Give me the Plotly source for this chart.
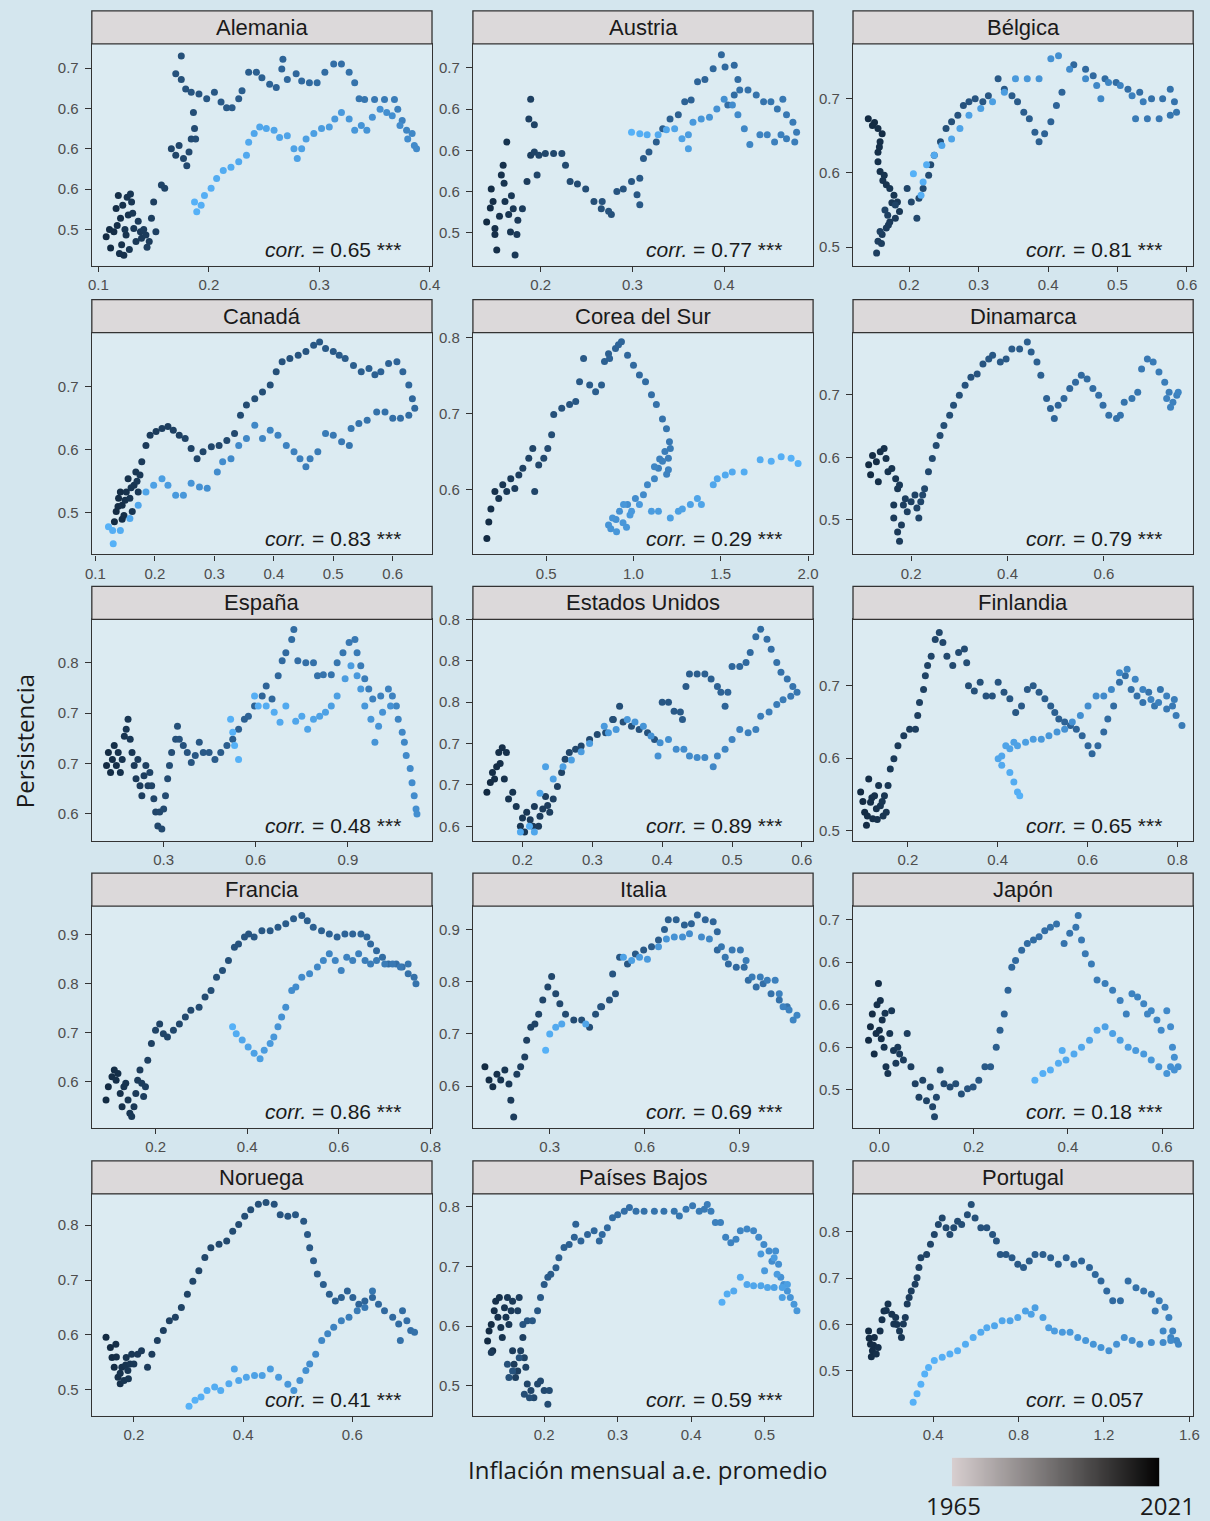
import plotly.graph_objects as go

# ---------------- DATA (inflation, persistence, year) ----------------
ALEMANIA = [(0.107,0.491,1965),(0.111,0.477,1965),(0.110,0.500,1966),(0.114,0.497,1966),(0.116,0.526,1966),(0.118,0.542,1967),(0.117,0.505,1967),(0.120,0.514,1967),(0.121,0.481,1968),(0.119,0.470,1968),(0.122,0.530,1968),(0.123,0.468,1968),(0.125,0.493,1969),(0.126,0.540,1969),(0.127,0.518,1969),(0.129,0.544,1970),(0.124,0.500,1970),(0.128,0.475,1970),(0.130,0.534,1970),(0.132,0.501,1971),(0.131,0.520,1971),(0.134,0.485,1971),(0.138,0.497,1972),(0.136,0.510,1972),(0.139,0.489,1972),(0.143,0.493,1973),(0.141,0.500,1973),(0.146,0.485,1973),(0.144,0.478,1974),(0.148,0.514,1974),(0.150,0.534,1974),(0.152,0.497,1975),
    (0.157,0.555,1976),(0.160,0.551,1976),(0.166,0.600,1977),(0.170,0.592,1977),(0.173,0.604,1978),(0.177,0.588,1978),(0.180,0.579,1979),(0.182,0.596,1979),(0.184,0.612,1980),(0.187,0.625,1980),(0.188,0.612,1981),(0.186,0.645,1981),
    (0.175,0.715,1982),(0.175,0.686,1982),(0.170,0.693,1983),(0.179,0.674,1983),(0.184,0.670,1984),(0.191,0.668,1984),(0.198,0.662,1985),(0.205,0.670,1985),(0.211,0.658,1986),(0.216,0.651,1986),(0.221,0.651,1987),(0.227,0.662,1987),(0.230,0.672,1988),(0.236,0.695,1988),(0.243,0.695,1989),(0.248,0.688,1989),(0.255,0.680,1990),(0.261,0.676,1990),(0.266,0.699,1991),(0.267,0.711,1991),(0.271,0.686,1992),(0.279,0.693,1992),(0.284,0.684,1993),(0.291,0.682,1993),(0.298,0.682,1994),(0.305,0.695,1994),(0.313,0.705,1995),(0.320,0.705,1995),(0.327,0.695,1996),(0.332,0.682,1997),(0.336,0.662,1998),(0.341,0.661,1998),(0.350,0.661,1999),(0.359,0.661,2000),(0.368,0.661,2001),(0.371,0.649,2002),(0.375,0.635,2003),(0.379,0.623,2004),(0.384,0.619,2005),(0.386,0.604,2006),(0.388,0.600,2006),
    (0.380,0.612,2007),(0.373,0.629,2007),(0.366,0.641,2008),(0.361,0.645,2008),(0.355,0.649,2009),(0.348,0.639,2009),(0.343,0.623,2010),(0.338,0.629,2010),(0.332,0.623,2011),(0.327,0.637,2011),(0.320,0.645,2012),(0.314,0.637,2012),(0.309,0.627,2013),(0.302,0.625,2013),(0.295,0.619,2014),(0.288,0.612,2014),(0.284,0.600,2015),(0.280,0.588,2015),(0.277,0.600,2015),(0.271,0.616,2016),(0.264,0.614,2016),(0.259,0.623,2016),(0.252,0.625,2017),(0.246,0.627,2017),(0.241,0.619,2017),(0.236,0.608,2018),(0.234,0.592,2018),(0.227,0.584,2018),(0.220,0.577,2019),(0.213,0.573,2019),(0.207,0.563,2019),(0.202,0.551,2020),(0.196,0.542,2020),(0.193,0.530,2020),(0.189,0.522,2021),(0.187,0.534,2021)]

AUSTRIA = [(0.141,0.513,1965),(0.146,0.553,1966),(0.145,0.530,1966),(0.148,0.538,1966),(0.150,0.505,1967),(0.150,0.498,1967),(0.152,0.479,1967),(0.155,0.520,1968),(0.157,0.570,1968),(0.159,0.582,1968),(0.160,0.560,1969),(0.161,0.538,1969),(0.163,0.610,1969),(0.165,0.522,1970),(0.167,0.501,1970),(0.168,0.545,1971),(0.170,0.529,1971),(0.172,0.473,1971),(0.175,0.515,1972),(0.174,0.498,1972),
    (0.180,0.529,1973),(0.185,0.562,1973),(0.189,0.594,1974),(0.187,0.638,1975),(0.189,0.662,1975),(0.193,0.631,1976),(0.193,0.598,1976),(0.196,0.570,1977),(0.198,0.594,1977),
    (0.205,0.596,1978),(0.214,0.596,1978),(0.223,0.596,1979),(0.227,0.582,1979),(0.232,0.562,1980),(0.240,0.559,1980),(0.249,0.553,1981),(0.258,0.538,1981),(0.266,0.529,1982),(0.277,0.522,1982),(0.267,0.538,1983),(0.274,0.526,1983),(0.283,0.550,1984),(0.290,0.553,1984),(0.299,0.562,1985),(0.305,0.546,1985),(0.308,0.534,1986),(0.308,0.566,1986),(0.312,0.590,1987),(0.318,0.598,1987),(0.326,0.610,1988),(0.333,0.626,1988),(0.341,0.638,1989),(0.350,0.643,1989),(0.357,0.659,1990),(0.364,0.661,1990),(0.371,0.683,1991),(0.379,0.686,1991),(0.388,0.699,1992),(0.397,0.716,1992),(0.401,0.701,1993),(0.411,0.703,1993),(0.415,0.686,1994),(0.411,0.667,1994),(0.404,0.655,1995),
    (0.417,0.673,1996),(0.426,0.673,1996),(0.435,0.667,1997),(0.443,0.659,1997),(0.451,0.659,1998),(0.458,0.650,1998),(0.464,0.662,1999),(0.468,0.643,1999),(0.475,0.634,2000),(0.479,0.622,2000),(0.477,0.610,2001),(0.468,0.614,2001),(0.462,0.619,2002),(0.455,0.610,2002),(0.447,0.619,2003),(0.439,0.619,2003),(0.428,0.607,2004),(0.422,0.626,2005),(0.415,0.643,2006),(0.409,0.655,2007),(0.400,0.662,2008),(0.392,0.650,2009),(0.384,0.640,2010),(0.375,0.638,2011),(0.366,0.634,2012),(0.361,0.619,2013),(0.361,0.602,2014),(0.354,0.614,2015),(0.346,0.626,2016),(0.337,0.625,2017),(0.328,0.619,2018),(0.316,0.619,2019),(0.308,0.620,2020),(0.299,0.622,2021)]

BELGICA = [(0.141,0.673,1965),(0.150,0.668,1965),(0.147,0.664,1965),(0.155,0.660,1966),(0.161,0.653,1966),(0.158,0.642,1967),(0.157,0.635,1967),(0.155,0.628,1967),(0.155,0.615,1968),(0.158,0.602,1968),(0.162,0.590,1969),(0.164,0.597,1969),(0.167,0.584,1969),(0.172,0.579,1970),(0.178,0.570,1970),(0.175,0.560,1971),(0.183,0.561,1971),(0.186,0.548,1971),(0.180,0.539,1972),(0.172,0.534,1972),(0.170,0.530,1973),(0.167,0.526,1973),(0.161,0.517,1973),(0.160,0.505,1974),(0.155,0.508,1974),(0.153,0.492,1974),(0.158,0.521,1975),(0.169,0.543,1975),(0.165,0.550,1976),(0.180,0.557,1976),
    (0.197,0.579,1977),(0.203,0.561,1978),(0.211,0.539,1978),(0.214,0.566,1979),(0.220,0.579,1979),(0.228,0.597,1980),(0.231,0.611,1980),(0.236,0.624,1981),(0.245,0.642,1981),(0.253,0.660,1982),(0.261,0.669,1982),(0.270,0.678,1983),(0.278,0.691,1983),(0.286,0.696,1984),(0.295,0.700,1984),(0.306,0.696,1985),(0.314,0.704,1985),(0.328,0.727,1986),(0.337,0.713,1986),(0.348,0.704,1987),(0.356,0.696,1987),(0.365,0.682,1988),(0.373,0.673,1988),(0.381,0.655,1989),(0.387,0.642,1989),(0.395,0.653,1990),(0.404,0.669,1990),(0.412,0.691,1991),(0.420,0.709,1991),
    (0.437,0.746,1992),(0.454,0.740,1993),(0.465,0.731,1993),(0.482,0.727,1994),(0.498,0.722,1994),(0.515,0.713,1995),(0.532,0.709,1995),(0.549,0.700,1996),(0.565,0.700,1996),(0.576,0.713,1997),(0.582,0.696,1997),(0.585,0.682,1998),(0.576,0.678,1998),(0.560,0.673,1999),(0.543,0.673,1999),(0.526,0.673,2000),
    (0.537,0.696,2001),(0.521,0.704,2002),(0.504,0.718,2003),(0.487,0.722,2004),(0.470,0.718,2005),(0.476,0.700,2005),(0.454,0.727,2006),(0.431,0.740,2007),(0.415,0.758,2008),(0.404,0.754,2009),(0.387,0.727,2010),(0.370,0.727,2011),(0.353,0.727,2012),(0.337,0.709,2013),(0.320,0.696,2014),(0.303,0.687,2014),(0.286,0.678,2015),(0.273,0.660,2016),(0.261,0.646,2016),(0.247,0.637,2017),(0.236,0.624,2018),(0.225,0.611,2019),(0.220,0.588,2020),(0.217,0.570,2020),(0.206,0.599,2021)]

CANADA = [(0.132,0.486,1965),(0.145,0.490,1966),(0.135,0.502,1965),(0.139,0.523,1966),(0.138,0.510,1966),(0.142,0.533,1966),(0.145,0.512,1967),(0.148,0.496,1967),(0.150,0.520,1968),(0.152,0.533,1968),(0.155,0.554,1968),(0.158,0.523,1969),(0.162,0.502,1969),(0.160,0.540,1970),(0.165,0.544,1970),(0.168,0.565,1970),(0.170,0.550,1971),(0.172,0.533,1971),(0.175,0.560,1971),
    (0.178,0.581,1972),(0.185,0.607,1972),(0.192,0.623,1973),(0.202,0.629,1973),(0.212,0.634,1974),(0.222,0.637,1974),(0.231,0.631,1975),(0.241,0.623,1975),(0.251,0.618,1976),(0.261,0.602,1976),(0.271,0.586,1977),(0.281,0.597,1977),(0.295,0.605,1978),(0.308,0.607,1978),(0.321,0.615,1979),(0.334,0.626,1979),(0.344,0.655,1980),(0.354,0.671,1980),(0.368,0.681,1981),(0.381,0.692,1981),(0.394,0.703,1982),(0.404,0.724,1982),(0.414,0.740,1983),(0.427,0.745,1983),(0.441,0.750,1984),(0.454,0.756,1984),(0.467,0.766,1985),(0.477,0.771,1985),(0.487,0.761,1986),(0.500,0.756,1986),(0.510,0.750,1987),(0.520,0.745,1987),(0.534,0.734,1988),(0.547,0.724,1988),(0.560,0.729,1989),(0.570,0.719,1989),(0.580,0.724,1990),(0.593,0.737,1990),(0.607,0.740,1991),(0.617,0.724,1991),(0.627,0.703,1992),(0.633,0.681,1992),(0.637,0.666,1993),
    (0.627,0.655,1994),(0.613,0.650,1995),(0.600,0.650,1995),(0.587,0.660,1996),(0.573,0.660,1996),(0.557,0.647,1997),(0.543,0.642,1997),(0.530,0.634,1998),(0.527,0.607,1998),(0.514,0.613,1999),(0.500,0.623,1999),(0.487,0.626,2000),(0.474,0.597,2000),(0.461,0.586,2001),(0.454,0.573,2001),(0.444,0.586,2002),(0.434,0.597,2002),(0.421,0.607,2003),(0.407,0.623,2003),(0.394,0.631,2004),(0.381,0.618,2004),(0.368,0.639,2005),(0.354,0.618,2005),(0.341,0.607,2006),(0.328,0.586,2006),(0.314,0.581,2007),(0.305,0.565,2007),(0.288,0.539,2008),(0.275,0.541,2009),(0.261,0.547,2010),(0.248,0.528,2011),(0.235,0.528,2012),(0.222,0.544,2013),(0.212,0.554,2014),(0.198,0.544,2015),(0.185,0.533,2016),(0.172,0.512,2017),(0.158,0.491,2018),(0.142,0.472,2019),(0.129,0.472,2020),(0.122,0.478,2021),(0.130,0.451,2021)]

COREA = [(0.160,0.535,1965),(0.171,0.557,1966),(0.183,0.574,1967),(0.206,0.597,1968),(0.228,0.588,1969),(0.251,0.606,1970),(0.274,0.597,1971),(0.297,0.614,1972),(0.320,0.601,1973),(0.343,0.619,1974),(0.366,0.628,1975),(0.400,0.641,1976),(0.423,0.654,1977),(0.434,0.597,1977),(0.457,0.632,1978),(0.486,0.641,1979),(0.509,0.654,1980),(0.531,0.672,1981),(0.543,0.699,1982),(0.589,0.707,1983),(0.634,0.712,1984),(0.669,0.716,1985),(0.691,0.742,1986),(0.714,0.773,1986),(0.749,0.738,1987),(0.783,0.729,1988),(0.817,0.738,1988),(0.834,0.769,1989),(0.857,0.779,1989),(0.863,0.773,1990),(0.897,0.786,1990),(0.914,0.791,1991),(0.931,0.795,1991),(0.966,0.777,1992),(1.000,0.764,1993),(1.034,0.751,1993),(1.069,0.742,1994),(1.103,0.725,1995),(1.131,0.712,1996),(1.166,0.693,1997),(1.189,0.680,1998),(1.206,0.663,1999),(1.211,0.654,2000),
    (1.200,0.641,2001),(1.180,0.650,2001),(1.166,0.637,2002),(1.150,0.640,2002),(1.143,0.628,2002),(1.200,0.626,2003),(1.190,0.620,2003),(1.120,0.614,2004),(1.120,0.630,2004),(1.080,0.606,2005),(1.057,0.593,2006),(1.011,0.588,2007),(0.966,0.580,2008),(0.920,0.571,2009),(0.900,0.560,2009),(0.880,0.562,2010),(0.857,0.553,2010),(0.870,0.548,2010),(0.903,0.544,2011),(0.940,0.556,2011),(0.960,0.550,2011),
    (0.943,0.580,2011),(0.989,0.571,2012),(0.980,0.566,2012),(1.034,0.580,2012),(1.103,0.571,2013),(1.143,0.571,2013),(1.211,0.562,2014),(1.257,0.571,2014),(1.280,0.574,2015),(1.326,0.580,2015),(1.366,0.588,2016),(1.389,0.580,2016),(1.457,0.606,2017),(1.480,0.614,2017),(1.526,0.619,2018),(1.566,0.623,2018),(1.634,0.623,2019),(1.726,0.639,2019),(1.789,0.637,2020),(1.846,0.643,2020),(1.903,0.641,2021),(1.943,0.634,2021)]

DINAMARCA = [(0.112,0.588,1965),(0.116,0.572,1965),(0.120,0.603,1966),(0.128,0.593,1966),(0.132,0.561,1967),(0.136,0.609,1967),(0.144,0.614,1968),(0.148,0.598,1968),(0.152,0.577,1969),(0.160,0.582,1969),(0.168,0.566,1970),(0.172,0.550,1970),(0.176,0.556,1971),(0.164,0.524,1971),(0.164,0.503,1972),(0.172,0.481,1972),(0.176,0.466,1973),(0.180,0.492,1973),(0.184,0.524,1974),(0.188,0.534,1974),(0.192,0.513,1975),(0.200,0.529,1975),(0.208,0.540,1976),(0.212,0.519,1976),(0.216,0.503,1977),(0.220,0.529,1977),(0.224,0.540,1978),(0.228,0.550,1978),
    (0.236,0.577,1979),(0.244,0.598,1979),(0.252,0.619,1980),(0.260,0.635,1980),(0.268,0.651,1981),(0.280,0.667,1981),(0.288,0.683,1982),(0.300,0.699,1982),(0.312,0.715,1983),(0.324,0.728,1983),(0.337,0.733,1984),(0.349,0.749,1984),(0.361,0.757,1985),(0.369,0.763,1985),(0.385,0.752,1986),(0.397,0.757,1986),(0.409,0.773,1987),(0.425,0.773,1987),(0.441,0.784,1988),(0.449,0.768,1988),(0.461,0.752,1989),(0.469,0.731,1989),(0.481,0.694,1990),(0.489,0.678,1990),(0.497,0.662,1991),(0.505,0.683,1991),(0.517,0.694,1992),(0.529,0.710,1992),(0.541,0.720,1993),(0.553,0.731,1993),(0.565,0.725,1994),(0.577,0.710,1994),(0.589,0.699,1995),(0.598,0.683,1995),(0.610,0.667,1996),(0.626,0.662,1996),(0.634,0.667,1997),(0.642,0.688,1997),(0.658,0.694,1998),(0.670,0.704,1998),(0.678,0.741,1999),(0.690,0.757,1999),(0.702,0.752,2000),(0.714,0.736,2000),(0.726,0.720,2001),(0.735,0.704,2001),(0.743,0.688,2002),(0.751,0.699,2002),(0.738,0.680,2003),(0.730,0.694,2003),(0.754,0.704,2004)]

ESPANA = [(0.114,0.698,1965),(0.120,0.711,1965),(0.127,0.691,1966),(0.133,0.704,1966),(0.139,0.718,1967),(0.146,0.698,1967),(0.152,0.711,1968),(0.159,0.691,1968),(0.165,0.704,1969),(0.172,0.727,1969),(0.178,0.734,1970),(0.184,0.744,1970),(0.191,0.724,1971),(0.197,0.711,1971),(0.204,0.698,1972),(0.210,0.685,1972),(0.216,0.704,1973),(0.223,0.678,1973),(0.229,0.668,1974),(0.236,0.688,1974),(0.242,0.698,1975),(0.249,0.678,1975),(0.255,0.691,1976),(0.261,0.678,1976),(0.268,0.665,1977),(0.274,0.652,1977),(0.281,0.638,1978),(0.287,0.652,1978),(0.294,0.635,1979),(0.300,0.655,1979),(0.306,0.668,1980),(0.313,0.685,1980),(0.319,0.698,1981),(0.326,0.711,1981),(0.339,0.724,1982),(0.345,0.737,1982),
    (0.351,0.724,1983),(0.364,0.718,1983),(0.377,0.711,1984),(0.390,0.701,1984),(0.403,0.708,1985),(0.416,0.721,1985),(0.429,0.711,1986),(0.448,0.711,1986),(0.467,0.704,1987),(0.486,0.711,1987),(0.506,0.718,1988),(0.525,0.724,1988),(0.544,0.734,1989),(0.563,0.744,1989),(0.576,0.747,1990),(0.596,0.757,1990),(0.621,0.767,1991),(0.634,0.777,1991),(0.653,0.764,1992),(0.673,0.787,1992),(0.686,0.802,1993),(0.698,0.810,1993),(0.717,0.823,1994),(0.724,0.833,1994),(0.737,0.802,1995),(0.763,0.800,1995),(0.788,0.800,1996),(0.801,0.787,1996),(0.820,0.788,1997),(0.846,0.788,1997),(0.865,0.800,1998),(0.884,0.810,1998),(0.904,0.820,1999),(0.923,0.823,1999),(0.930,0.810,2000),(0.942,0.797,2000),(0.955,0.784,2001),(0.968,0.774,2001),(0.981,0.764,2002),(1.007,0.767,2002),(1.032,0.774,2003),(1.045,0.767,2003),(1.058,0.757,2004),(1.064,0.744,2004),(1.077,0.731,2005),(1.084,0.721,2005),(1.090,0.708,2006),(1.103,0.695,2006),(1.109,0.681,2007),(1.116,0.668,2007),(1.122,0.655,2008),(1.125,0.650,2008),
    (1.039,0.757,2009),(1.013,0.751,2009),(1.000,0.737,2010),(0.988,0.721,2010),(0.975,0.744,2011),(0.955,0.757,2011),(0.942,0.774,2012),(0.930,0.787,2012),(0.910,0.797,2013),(0.891,0.784,2013),(0.865,0.767,2014),(0.846,0.757,2014),(0.827,0.751,2015),(0.808,0.747,2015),(0.788,0.744,2016),(0.769,0.734,2016),(0.750,0.747,2017),(0.730,0.742,2017),(0.698,0.757,2018),(0.679,0.741,2018),(0.660,0.751,2019),(0.634,0.757,2019),(0.608,0.757,2020),(0.596,0.767,2020),(0.544,0.704,2021),(0.531,0.718,2021),(0.525,0.731,2021),(0.518,0.744,2021)]

EEUU = [(0.149,0.641,1965),(0.154,0.653,1965),(0.157,0.665,1966),(0.160,0.657,1966),(0.163,0.672,1966),(0.166,0.689,1967),(0.168,0.676,1967),(0.171,0.695,1967),(0.177,0.689,1968),(0.174,0.657,1968),(0.180,0.633,1969),(0.186,0.641,1969),(0.191,0.624,1970),(0.197,0.600,1970),(0.200,0.610,1971),(0.203,0.593,1971),(0.206,0.617,1971),(0.211,0.608,1972),(0.215,0.600,1972),(0.217,0.624,1972),(0.223,0.600,1973),(0.225,0.612,1973),(0.229,0.621,1973),(0.233,0.636,1974),(0.236,0.625,1974),(0.239,0.617,1974),(0.244,0.633,1975),(0.250,0.648,1975),(0.256,0.665,1976),
    (0.261,0.681,1977),(0.267,0.689,1977),(0.276,0.693,1978),(0.284,0.697,1978),(0.296,0.705,1979),(0.307,0.711,1979),(0.319,0.713,1980),(0.330,0.729,1980),(0.329,0.729,1981),(0.339,0.745,1981),(0.344,0.726,1982),(0.356,0.721,1982),(0.367,0.717,1983),(0.379,0.713,1983),(0.389,0.705,1984),(0.400,0.750,1985),(0.409,0.750,1985),(0.417,0.739,1986),(0.426,0.738,1986),(0.429,0.729,1987),(0.434,0.769,1987),(0.439,0.784,1988),(0.450,0.784,1988),(0.461,0.784,1989),(0.470,0.778,1989),(0.479,0.769,1990),(0.484,0.762,1990),(0.490,0.745,1991),(0.494,0.762,1991),(0.500,0.793,1992),(0.511,0.793,1992),(0.520,0.798,1993),(0.526,0.810,1993),(0.534,0.829,1994),(0.541,0.838,1994),(0.550,0.826,1995),(0.556,0.814,1995),(0.564,0.798,1996),(0.570,0.786,1996),(0.579,0.778,1997),(0.587,0.769,1997),(0.593,0.762,1998),
    (0.584,0.757,1999),(0.573,0.753,2000),(0.564,0.747,2000),(0.553,0.738,2001),(0.541,0.733,2001),(0.534,0.717,2002),(0.523,0.713,2002),(0.511,0.717,2003),(0.500,0.705,2003),(0.490,0.693,2004),(0.479,0.685,2004),(0.473,0.672,2005),(0.461,0.683,2005),(0.450,0.683,2006),(0.439,0.685,2006),(0.431,0.693,2007),(0.420,0.693,2007),(0.409,0.705,2008),(0.397,0.701,2008),(0.394,0.685,2009),(0.384,0.709,2009),(0.373,0.721,2010),(0.361,0.726,2010),(0.350,0.729,2011),(0.334,0.717,2011),(0.323,0.713,2012),(0.317,0.721,2012),(0.296,0.700,2013),(0.284,0.690,2013),(0.270,0.680,2014),(0.258,0.672,2014),(0.244,0.657,2015),(0.233,0.672,2015),(0.225,0.640,2016),(0.217,0.593,2017),(0.197,0.593,2018),(0.210,0.600,2019)]

FINLANDIA = [(0.095,0.553,1965),(0.100,0.540,1965),(0.104,0.525,1965),(0.108,0.507,1966),(0.110,0.520,1966),(0.113,0.571,1966),(0.117,0.539,1967),(0.120,0.545,1967),(0.122,0.516,1967),(0.126,0.548,1968),(0.132,0.515,1968),(0.130,0.530,1968),(0.135,0.562,1969),(0.139,0.534,1969),(0.143,0.540,1970),(0.145,0.520,1970),(0.148,0.548,1970),(0.152,0.525,1970),(0.156,0.562,1971),
    (0.161,0.585,1971),(0.169,0.599,1972),(0.178,0.617,1972),(0.191,0.631,1973),(0.204,0.640,1973),(0.217,0.640,1974),(0.222,0.659,1974),(0.226,0.677,1975),(0.235,0.695,1975),(0.239,0.714,1976),(0.244,0.728,1976),(0.252,0.741,1977),(0.261,0.764,1977),(0.270,0.774,1978),(0.278,0.760,1978),(0.287,0.741,1979),(0.300,0.728,1979),(0.313,0.746,1980),(0.326,0.751,1980),(0.331,0.732,1981),
    (0.335,0.700,1981),(0.348,0.693,1982),(0.361,0.705,1982),(0.374,0.686,1983),(0.388,0.686,1983),(0.401,0.705,1984),(0.414,0.691,1984),(0.427,0.682,1985),(0.440,0.663,1985),(0.453,0.672,1986),(0.466,0.695,1986),(0.479,0.700,1987),(0.492,0.691,1987),(0.505,0.682,1988),(0.518,0.672,1988),(0.527,0.663,1989),(0.536,0.654,1989),(0.549,0.650,1990),(0.562,0.645,1990),(0.575,0.640,1991),(0.588,0.631,1991),(0.601,0.617,1992),(0.610,0.606,1992),(0.623,0.617,1993),(0.636,0.636,1993),(0.645,0.654,1994),(0.658,0.672,1994),(0.671,0.705,1995),(0.684,0.714,1995),(0.697,0.695,1996),(0.710,0.686,1996),(0.723,0.677,1997),(0.736,0.691,1997),(0.749,0.672,1998),(0.762,0.695,1998),(0.776,0.668,1999),(0.789,0.672,1999),(0.797,0.659,2000),(0.810,0.645,2000),
    (0.793,0.681,2001),(0.776,0.686,2002),(0.758,0.677,2002),(0.741,0.681,2003),(0.723,0.695,2003),(0.706,0.709,2004),(0.688,0.723,2004),(0.671,0.718,2005),(0.653,0.695,2005),(0.636,0.686,2006),(0.619,0.686,2007),(0.601,0.672,2007),(0.584,0.659,2008),(0.566,0.650,2009),(0.549,0.640,2009),(0.532,0.636,2010),(0.514,0.631,2011),(0.497,0.626,2012),(0.479,0.626,2013),(0.462,0.622,2014),(0.444,0.617,2015),(0.436,0.622,2015),(0.427,0.613,2016),(0.418,0.617,2016),(0.409,0.603,2017),(0.401,0.599,2017),(0.409,0.590,2018),(0.427,0.580,2019),(0.436,0.567,2019),(0.444,0.553,2020),(0.449,0.548,2021)]

FRANCIA = [(0.092,0.563,1965),(0.097,0.590,1965),(0.105,0.610,1966),(0.110,0.624,1966),(0.114,0.603,1967),(0.118,0.617,1967),(0.123,0.576,1968),(0.127,0.549,1968),(0.131,0.590,1969),(0.135,0.597,1969),(0.140,0.563,1970),(0.144,0.536,1970),(0.148,0.529,1971),(0.153,0.549,1971),(0.157,0.576,1972),(0.161,0.603,1972),(0.166,0.624,1973),(0.170,0.597,1973),(0.174,0.570,1974),(0.178,0.590,1974),
    (0.183,0.644,1975),(0.191,0.678,1975),(0.200,0.705,1976),(0.209,0.718,1976),(0.217,0.698,1977),(0.226,0.691,1977),(0.239,0.705,1978),(0.252,0.718,1978),(0.265,0.732,1979),(0.277,0.746,1979),(0.295,0.752,1980),(0.308,0.773,1980),(0.321,0.786,1981),(0.333,0.813,1981),(0.346,0.827,1982),(0.359,0.847,1982),(0.372,0.874,1983),(0.381,0.881,1983),(0.394,0.895,1984),(0.403,0.901,1984),(0.415,0.895,1985),(0.432,0.908,1985),(0.450,0.908,1986),(0.467,0.915,1986),(0.484,0.922,1987),(0.501,0.932,1987),(0.519,0.939,1988),(0.531,0.928,1988),(0.544,0.915,1989),(0.562,0.908,1989),(0.579,0.901,1990),(0.596,0.895,1990),(0.613,0.901,1991),(0.630,0.901,1991),(0.648,0.901,1992),(0.661,0.895,1992),(0.669,0.881,1993),(0.682,0.867,1993),(0.695,0.854,1994),(0.708,0.840,1994),(0.725,0.840,1995),(0.738,0.834,1995),(0.751,0.820,1996),(0.764,0.813,1996),(0.768,0.800,1997),
    (0.751,0.840,1998),(0.734,0.834,1999),(0.717,0.840,1999),(0.700,0.840,2000),(0.682,0.847,2000),(0.669,0.840,2001),(0.657,0.847,2001),(0.643,0.861,2002),(0.630,0.847,2002),(0.617,0.854,2003),(0.605,0.827,2003),(0.592,0.847,2004),(0.579,0.861,2004),(0.566,0.847,2005),(0.553,0.834,2005),(0.536,0.820,2006),(0.519,0.813,2006),(0.506,0.793,2007),(0.497,0.786,2007),(0.484,0.752,2008),(0.475,0.732,2009),(0.467,0.712,2010),(0.458,0.691,2011),(0.450,0.678,2012),(0.437,0.664,2013),(0.428,0.647,2014),(0.415,0.658,2015),(0.402,0.671,2016),(0.389,0.685,2017),(0.376,0.698,2019),(0.368,0.712,2021)]

ITALIA = [(0.095,0.637,1965),(0.108,0.612,1966),(0.120,0.599,1967),(0.133,0.623,1968),(0.145,0.612,1969),(0.158,0.631,1970),(0.171,0.604,1971),(0.177,0.573,1972),(0.186,0.541,1973),
    (0.196,0.623,1974),(0.208,0.637,1974),(0.221,0.656,1975),(0.227,0.688,1975),(0.240,0.713,1976),(0.253,0.719,1976),(0.265,0.738,1977),(0.278,0.765,1977),(0.294,0.790,1978),(0.306,0.810,1978),(0.319,0.777,1979),(0.332,0.758,1979),(0.350,0.738,1980),(0.376,0.727,1980),(0.401,0.727,1981),(0.426,0.713,1981),(0.445,0.738,1982),(0.464,0.752,1982),(0.489,0.765,1983),(0.508,0.777,1983),(0.461,0.752,1984),(0.499,0.815,1984),(0.521,0.847,1985),(0.546,0.834,1985),(0.571,0.853,1986),(0.597,0.861,1986),(0.622,0.867,1987),(0.644,0.880,1987),(0.663,0.900,1988),(0.675,0.919,1988),(0.700,0.919,1989),(0.726,0.909,1989),(0.748,0.911,1990),(0.767,0.928,1990),(0.792,0.919,1991),(0.817,0.915,1991),(0.830,0.896,1992),(0.830,0.861,1992),(0.865,0.834,1993),(0.890,0.828,1993),(0.915,0.828,1994),(0.928,0.803,1994),(0.953,0.790,1995),(0.975,0.796,1995),(1.000,0.777,1996),(1.026,0.765,1996),(1.051,0.752,1997),
    (0.843,0.867,1998),(0.855,0.847,1998),(0.877,0.861,1999),(0.903,0.861,1999),(0.921,0.841,2000),(0.940,0.809,2000),(0.966,0.809,2001),(0.988,0.803,2001),(1.013,0.803,2002),(1.026,0.777,2002),(1.038,0.752,2003),(1.057,0.746,2003),(1.070,0.727,2004),(1.082,0.736,2004),
    (0.805,0.882,2005),(0.780,0.886,2006),(0.742,0.892,2007),(0.720,0.886,2008),(0.694,0.886,2009),(0.669,0.882,2010),(0.644,0.867,2011),(0.609,0.843,2012),(0.584,0.847,2013),(0.559,0.841,2014),(0.533,0.847,2015),(0.414,0.719,2016),(0.338,0.719,2017),(0.319,0.713,2018),(0.300,0.700,2019),(0.287,0.669,2021)]

JAPON = [(-0.023,0.558,1965),(-0.019,0.574,1965),(-0.015,0.589,1966),(-0.011,0.542,1966),(0.000,0.570,1966),(-0.007,0.566,1967),(-0.002,0.625,1967),(0.004,0.560,1967),(0.002,0.605,1968),(0.006,0.582,1968),(-0.005,0.600,1968),(0.010,0.550,1969),(0.014,0.527,1969),(0.018,0.519,1970),(0.012,0.590,1970),(0.022,0.566,1970),(0.026,0.593,1971),(0.030,0.546,1971),(0.035,0.531,1972),(0.039,0.550,1972),(0.043,0.542,1973),(0.051,0.535,1973),(0.059,0.566,1974),(0.067,0.527,1974),(0.076,0.507,1975),(0.084,0.491,1975),
    (0.092,0.511,1976),(0.100,0.487,1976),(0.108,0.503,1977),(0.113,0.480,1977),(0.117,0.468,1978),(0.121,0.491,1978),(0.129,0.523,1979),(0.137,0.507,1979),(0.150,0.503,1980),(0.162,0.507,1981),(0.174,0.495,1982),(0.187,0.501,1983),(0.199,0.503,1984),(0.211,0.511,1985),(0.224,0.527,1986),(0.236,0.527,1987),(0.248,0.550,1988),(0.256,0.570,1989),(0.265,0.589,1990),(0.273,0.617,1991),(0.281,0.644,1992),(0.289,0.652,1993),(0.302,0.664,1993),(0.314,0.672,1994),(0.327,0.676,1994),(0.339,0.680,1995),(0.351,0.687,1995),(0.363,0.691,1996),(0.376,0.695,1996),(0.392,0.672,1997),(0.404,0.684,1997),(0.417,0.691,1998),(0.422,0.705,1998),(0.429,0.676,1999),(0.437,0.660,1999),(0.450,0.648,2000),(0.462,0.629,2000),(0.479,0.625,2001),(0.495,0.617,2001),(0.511,0.605,2002),(0.524,0.589,2002),(0.536,0.613,2003),(0.548,0.609,2003),(0.561,0.601,2004),(0.569,0.589,2004),(0.577,0.593,2005),(0.589,0.582,2005),(0.598,0.570,2006),(0.610,0.593,2006),(0.618,0.574,2007),(0.622,0.550,2007),(0.626,0.538,2008),(0.634,0.527,2008),
    (0.626,0.523,2009),(0.618,0.527,2009),(0.610,0.519,2010),(0.593,0.527,2010),(0.577,0.535,2011),(0.561,0.542,2012),(0.544,0.546,2012),(0.528,0.550,2013),(0.511,0.558,2014),(0.495,0.566,2015),(0.479,0.574,2015),(0.462,0.570,2016),(0.446,0.558,2016),(0.429,0.550,2017),(0.413,0.542,2018),(0.396,0.535,2018),(0.388,0.546,2019),(0.380,0.531,2019),(0.363,0.523,2020),(0.347,0.519,2020),(0.330,0.511,2021)]

NORUEGA = [(0.149,0.596,1965),(0.157,0.577,1965),(0.160,0.559,1966),(0.164,0.541,1966),(0.167,0.583,1967),(0.168,0.560,1967),(0.171,0.523,1967),(0.175,0.511,1968),(0.175,0.530,1968),(0.178,0.541,1968),(0.182,0.517,1969),(0.185,0.545,1969),(0.186,0.559,1969),(0.189,0.535,1970),(0.190,0.520,1970),(0.193,0.547,1970),(0.196,0.565,1971),(0.200,0.547,1971),(0.207,0.565,1972),(0.214,0.571,1972),
    (0.225,0.541,1973),(0.233,0.565,1973),(0.243,0.590,1974),(0.254,0.608,1974),(0.265,0.626,1975),(0.276,0.632,1975),(0.287,0.650,1976),(0.298,0.674,1976),(0.308,0.698,1977),(0.319,0.717,1977),(0.330,0.741,1978),(0.341,0.759,1978),(0.356,0.765,1979),(0.370,0.771,1979),(0.381,0.789,1980),(0.392,0.801,1980),(0.403,0.816,1981),(0.414,0.828,1981),(0.428,0.838,1982),(0.442,0.841,1982),(0.457,0.838,1983),(0.468,0.819,1984),(0.482,0.816,1984),(0.496,0.819,1985),(0.511,0.807,1985),(0.518,0.783,1986),(0.522,0.759,1986),(0.529,0.735,1987),(0.536,0.711,1987),(0.547,0.692,1988),(0.558,0.674,1988),(0.569,0.662,1989),(0.580,0.668,1989),(0.591,0.680,1990),(0.601,0.668,1990),(0.612,0.656,1991),(0.623,0.662,1991),(0.637,0.668,1992),(0.648,0.656,1992),(0.659,0.644,1993),(0.674,0.632,1993),(0.685,0.620,1994),(0.692,0.644,1994),(0.700,0.626,1995),(0.707,0.608,1995),(0.714,0.605,1996),(0.688,0.590,1996),
    (0.637,0.680,1998),(0.623,0.650,1999),(0.609,0.644,2000),(0.594,0.632,2001),(0.580,0.626,2002),(0.566,0.614,2003),(0.555,0.602,2004),(0.544,0.590,2005),(0.533,0.565,2006),(0.522,0.547,2007),(0.515,0.535,2008),(0.504,0.517,2009),(0.493,0.499,2010),(0.482,0.510,2011),(0.465,0.523,2012),(0.450,0.538,2013),(0.435,0.526,2014),(0.421,0.526,2015),(0.406,0.523,2016),(0.392,0.517,2017),(0.384,0.538,2017),(0.374,0.511,2018),(0.359,0.499,2019),(0.348,0.505,2019),(0.334,0.499,2020),(0.323,0.487,2020),(0.312,0.481,2021),(0.301,0.470,2021)]

PAISES_BAJOS = [(0.123,0.575,1965),(0.125,0.592,1965),(0.128,0.603,1966),(0.130,0.559,1966),(0.132,0.626,1967),(0.134,0.642,1967),(0.137,0.615,1968),(0.139,0.648,1968),(0.141,0.598,1969),(0.143,0.581,1969),(0.146,0.631,1970),(0.148,0.615,1970),(0.150,0.648,1971),(0.152,0.603,1971),(0.155,0.626,1972),(0.157,0.642,1972),(0.128,0.556,1972),
    (0.157,0.559,1973),(0.159,0.536,1973),(0.161,0.514,1974),(0.164,0.525,1974),(0.166,0.648,1974),(0.164,0.626,1974),(0.168,0.559,1975),(0.171,0.581,1975),(0.173,0.547,1976),(0.175,0.531,1976),(0.177,0.503,1977),(0.182,0.492,1977),(0.186,0.480,1978),(0.191,0.503,1978),(0.195,0.508,1979),(0.200,0.492,1979),(0.205,0.469,1980),(0.207,0.492,1980),(0.173,0.486,1981),(0.180,0.480,1981),
    (0.150,0.536,1982),(0.152,0.514,1982),(0.157,0.525,1983),(0.166,0.547,1983),(0.171,0.603,1984),(0.177,0.609,1984),(0.184,0.609,1985),
    (0.191,0.626,1985),(0.195,0.648,1986),(0.200,0.670,1986),(0.205,0.682,1987),(0.209,0.687,1987),(0.216,0.698,1988),(0.220,0.715,1988),(0.227,0.732,1989),(0.234,0.737,1989),(0.241,0.749,1990),(0.243,0.771,1990),(0.250,0.743,1991),(0.259,0.754,1991),(0.268,0.760,1992),(0.275,0.743,1992),(0.279,0.754,1993),(0.286,0.765,1993),(0.293,0.782,1994),(0.300,0.787,1994),(0.309,0.793,1995),(0.316,0.799,1995),(0.325,0.793,1996),(0.336,0.793,1996),(0.350,0.793,1997),(0.363,0.793,1997),(0.377,0.793,1998),(0.384,0.785,1998),(0.393,0.796,1999),(0.402,0.802,1999),(0.411,0.793,2000),(0.418,0.796,2000),(0.422,0.804,2001),(0.427,0.793,2001),(0.433,0.774,2002),(0.440,0.774,2002),(0.447,0.749,2003),(0.454,0.740,2003),(0.461,0.746,2004),(0.467,0.760,2004),(0.476,0.763,2005),(0.485,0.760,2005),(0.492,0.749,2006),(0.499,0.737,2006),(0.506,0.726,2007),(0.510,0.709,2007),(0.515,0.726,2008),(0.519,0.704,2008),(0.522,0.682,2009),(0.526,0.670,2009),(0.531,0.659,2010),(0.535,0.648,2010),(0.540,0.637,2011),(0.544,0.626,2011),
    (0.495,0.721,2012),(0.500,0.693,2012),(0.513,0.715,2013),(0.517,0.687,2013),(0.524,0.648,2014),(0.531,0.670,2014),(0.524,0.665,2015),(0.513,0.665,2015),(0.504,0.665,2016),(0.495,0.668,2016),(0.485,0.668,2017),(0.476,0.670,2017),(0.467,0.682,2018),(0.458,0.659,2018),(0.449,0.654,2019),(0.442,0.640,2020)]

PORTUGAL = [(0.097,0.586,1965),(0.100,0.570,1965),(0.106,0.557,1965),(0.110,0.530,1966),(0.115,0.543,1966),(0.120,0.555,1966),(0.124,0.572,1966),(0.133,0.536,1967),(0.142,0.550,1967),(0.151,0.586,1968),(0.160,0.610,1968),(0.169,0.629,1968),(0.180,0.630,1969),(0.188,0.644,1969),(0.206,0.622,1969),(0.215,0.601,1970),(0.224,0.615,1970),(0.230,0.600,1970),(0.242,0.586,1971),(0.251,0.572,1971),(0.260,0.601,1972),(0.269,0.615,1972),(0.278,0.644,1973),(0.287,0.658,1973),(0.297,0.672,1974),(0.315,0.687,1974),(0.324,0.701,1975),(0.333,0.723,1975),(0.342,0.744,1976),
    (0.369,0.751,1976),(0.387,0.773,1977),(0.405,0.794,1977),(0.424,0.816,1978),(0.442,0.830,1978),(0.460,0.809,1979),(0.478,0.794,1979),(0.496,0.809,1980),(0.514,0.823,1980),(0.533,0.816,1981),(0.560,0.837,1981),(0.578,0.859,1982),(0.596,0.830,1982),(0.623,0.809,1983),(0.651,0.809,1983),(0.678,0.794,1984),(0.696,0.780,1984),(0.714,0.751,1985),(0.741,0.751,1985),(0.769,0.744,1986),(0.796,0.730,1986),(0.823,0.723,1987),(0.850,0.737,1987),(0.877,0.751,1988),(0.914,0.751,1988),(0.950,0.744,1989),(0.986,0.730,1989),(1.023,0.744,1990),(1.059,0.730,1990),(1.095,0.737,1991),(1.132,0.723,1991),(1.159,0.708,1992),(1.186,0.694,1992),(1.213,0.672,1993),(1.241,0.651,1993),(1.277,0.651,1994),(1.313,0.694,1995),(1.350,0.679,1996),(1.386,0.672,1997),(1.422,0.665,1998),(1.440,0.629,1999),(1.459,0.651,2000),(1.486,0.637,2001),(1.504,0.615,2002),(1.522,0.586,2003),(1.540,0.565,2004),(1.513,0.572,2004),(1.477,0.586,2005),
    (1.549,0.557,2005),(1.513,0.565,2006),(1.477,0.561,2006),(1.422,0.561,2007),(1.368,0.557,2007),(1.332,0.565,2008),(1.295,0.572,2008),(1.259,0.557,2009),(1.223,0.543,2009),(1.186,0.550,2010),(1.150,0.557,2010),(1.114,0.565,2011),(1.077,0.572,2011),(1.041,0.583,2012),(1.005,0.583,2012),(0.968,0.586,2013),(0.941,0.593,2013),(0.914,0.615,2014),(0.877,0.636,2014),(0.859,0.622,2015),(0.832,0.629,2015),(0.796,0.615,2016),(0.760,0.608,2016),(0.723,0.608,2017),(0.687,0.597,2017),(0.651,0.593,2018),(0.623,0.583,2018),(0.587,0.572,2019),(0.551,0.557,2019),(0.514,0.543,2020),(0.478,0.536,2020),(0.442,0.529,2020),(0.405,0.522,2021),(0.378,0.507,2021),(0.360,0.493,2021),(0.342,0.471,2021),(0.324,0.450,2021),(0.306,0.432,2021)]

COUNTRIES = ["Alemania", "Austria", "Bélgica", "Canadá", "Corea del Sur", "Dinamarca",
             "España", "Estados Unidos", "Finlandia", "Francia", "Italia", "Japón",
             "Noruega", "Países Bajos", "Portugal"]
SERIES = [ALEMANIA, AUSTRIA, BELGICA, CANADA, COREA, DINAMARCA, ESPANA, EEUU, FINLANDIA,
          FRANCIA, ITALIA, JAPON, NORUEGA, PAISES_BAJOS, PORTUGAL]
CORR = ["0.65 ***", "0.77 ***", "0.81 ***", "0.83 ***", "0.29 ***", "0.79 ***",
        "0.48 ***", "0.89 ***", "0.65 ***", "0.86 ***", "0.69 ***", "0.18 ***",
        "0.41 ***", "0.59 ***", "0.057"]

X_RANGES = [(0.094, 0.402), (0.126, 0.497), (0.119, 0.609), (0.094, 0.666), (0.080, 2.029),
            (0.0795, 0.785), (0.066, 1.174), (0.129, 0.616), (0.078, 0.835), (0.061, 0.803),
            (0.057, 1.133), (-0.056, 0.666), (0.123, 0.746), (0.103, 0.566), (0.024, 1.618)]
Y_RANGES = [(0.455, 0.730), (0.460, 0.729), (0.475, 0.774), (0.434, 0.786), (0.514, 0.807),
            (0.445, 0.799), (0.623, 0.843), (0.582, 0.850), (0.485, 0.792), (0.506, 0.958),
            (0.520, 0.945), (0.455, 0.716), (0.453, 0.857), (0.450, 0.822), (0.403, 0.882)]

X_TICKS = [[0.1, 0.2, 0.3, 0.4], [0.2, 0.3, 0.4], [0.2, 0.3, 0.4, 0.5, 0.6],
           [0.1, 0.2, 0.3, 0.4, 0.5, 0.6], [0.5, 1.0, 1.5, 2.0], [0.2, 0.4, 0.6],
           [0.3, 0.6, 0.9], [0.2, 0.3, 0.4, 0.5, 0.6], [0.2, 0.4, 0.6, 0.8],
           [0.2, 0.4, 0.6, 0.8], [0.3, 0.6, 0.9], [0.0, 0.2, 0.4, 0.6],
           [0.2, 0.4, 0.6], [0.2, 0.3, 0.4, 0.5], [0.4, 0.8, 1.2, 1.6]]
X_TICKTEXT = [["0.1", "0.2", "0.3", "0.4"], ["0.2", "0.3", "0.4"], ["0.2", "0.3", "0.4", "0.5", "0.6"],
              ["0.1", "0.2", "0.3", "0.4", "0.5", "0.6"], ["0.5", "1.0", "1.5", "2.0"], ["0.2", "0.4", "0.6"],
              ["0.3", "0.6", "0.9"], ["0.2", "0.3", "0.4", "0.5", "0.6"], ["0.2", "0.4", "0.6", "0.8"],
              ["0.2", "0.4", "0.6", "0.8"], ["0.3", "0.6", "0.9"], ["0.0", "0.2", "0.4", "0.6"],
              ["0.2", "0.4", "0.6"], ["0.2", "0.3", "0.4", "0.5"], ["0.4", "0.8", "1.2", "1.6"]]
Y_TICKS = [[0.5, 0.55, 0.6, 0.65, 0.7], [0.5, 0.55, 0.6, 0.65, 0.7], [0.5, 0.6, 0.7],
           [0.5, 0.6, 0.7], [0.6, 0.7, 0.8], [0.5, 0.6, 0.7],
           [0.65, 0.70, 0.75, 0.80], [0.60, 0.65, 0.70, 0.75, 0.80, 0.85], [0.5, 0.6, 0.7],
           [0.6, 0.7, 0.8, 0.9], [0.6, 0.7, 0.8, 0.9], [0.5, 0.55, 0.6, 0.65, 0.7],
           [0.5, 0.6, 0.7, 0.8], [0.5, 0.6, 0.7, 0.8], [0.5, 0.6, 0.7, 0.8]]
Y_TICKTEXT = [["0.5", "0.6", "0.6", "0.6", "0.7"], ["0.5", "0.6", "0.6", "0.6", "0.7"], ["0.5", "0.6", "0.7"],
              ["0.5", "0.6", "0.7"], ["0.6", "0.7", "0.8"], ["0.5", "0.6", "0.7"],
              ["0.6", "0.7", "0.7", "0.8"], ["0.6", "0.7", "0.7", "0.8", "0.8", "0.8"], ["0.5", "0.6", "0.7"],
              ["0.6", "0.7", "0.8", "0.9"], ["0.6", "0.7", "0.8", "0.9"], ["0.5", "0.6", "0.6", "0.6", "0.7"],
              ["0.5", "0.6", "0.7", "0.8"], ["0.5", "0.6", "0.7", "0.8"], ["0.5", "0.6", "0.7", "0.8"]]

LEGEND_YEARS = list(range(1965, 2022))

# ---------------- LAYOUT / STYLE ----------------
W, H = 1210, 1521
# target pixel geometry (as seen in the reference picture)
COLS = [(90, 431), (472, 813), (853, 1194)]
ROWS = [(42, 264), (331, 553), (618, 840), (905, 1127), (1193, 1415)]
STRIP_H = 33
# empirical correction between requested and photographed pixel positions
SX, BX = 0.98913, 4.98
SY, BY = 0.99502, 7.04
PAGE_BG = "#d4e6ee"
PANEL_BG = "#dcebf2"
STRIP_BG = "#dcd9da"
FRAME = "#333333"
BLUES = [[0, "#132B43"], [0.25, "#22496F"], [0.5, "#30699F"], [0.75, "#428CCD"], [1, "#56B1F7"]]
GRAYS = [[0, "#d8cfd0"], [0.5, "#6f6c6c"], [1, "#030303"]]
SANS = "Liberation Sans, Arial, sans-serif"
TICKFONT = dict(family=SANS, size=15, color="#4d4d4d")
TITLEFONT = dict(family="Open Sans, sans-serif", size=24, color="#1a1a1a")


def px_x(p):
    return ((p - BX) / SX) / W


def px_y(p):
    return 1 - ((p - BY) / SY) / H


fig = go.Figure()
shapes = []
annotations = []
layout = dict(width=W, height=H, margin=dict(l=0, r=0, t=0, b=0, pad=0), autosize=False,
              paper_bgcolor=PAGE_BG, plot_bgcolor=PANEL_BG, showlegend=False)

for i, name in enumerate(COUNTRIES):
    r, c = divmod(i, 3)
    x0, x1 = COLS[c]
    y0, y1 = ROWS[r]
    k = "" if i == 0 else str(i + 1)
    pts = SERIES[i]
    fig.add_trace(go.Scatter(
        x=[p[0] for p in pts], y=[p[1] for p in pts], mode="markers",
        xaxis="x" + k, yaxis="y" + k, hoverinfo="skip",
        marker=dict(size=7, color=[p[2] for p in pts], colorscale=BLUES,
                    cmin=1965, cmax=2021, showscale=False, line=dict(width=0))))
    layout["xaxis" + k] = dict(domain=[px_x(x0), px_x(x1)], range=list(X_RANGES[i]),
                               anchor="y" + k, tickvals=X_TICKS[i], ticktext=X_TICKTEXT[i],
                               showline=True, mirror=True, linecolor=FRAME, linewidth=1.3,
                               ticks="outside", ticklen=5, tickwidth=1, tickcolor=FRAME,
                               tickfont=TICKFONT, showgrid=False, zeroline=False, fixedrange=True)
    layout["yaxis" + k] = dict(domain=[px_y(y1), px_y(y0)], range=list(Y_RANGES[i]),
                               anchor="x" + k, tickvals=Y_TICKS[i], ticktext=Y_TICKTEXT[i],
                               showline=True, mirror=True, linecolor=FRAME, linewidth=1.3,
                               ticks="outside", ticklen=6, tickwidth=1, tickcolor=FRAME,
                               ticklabelstandoff=3,
                               tickfont=TICKFONT, showgrid=False, zeroline=False, fixedrange=True)
    shapes.append(dict(type="rect", xref="paper", yref="paper",
                       x0=px_x(x0), x1=px_x(x1), y0=px_y(y0), y1=px_y(y0 - STRIP_H),
                       fillcolor=STRIP_BG, line=dict(color=FRAME, width=1.3), layer="above"))
    annotations.append(dict(xref="paper", yref="paper", x=px_x((x0 + x1) / 2),
                            y=px_y(y0 - STRIP_H / 2), text=name, showarrow=False,
                            xanchor="center", yanchor="middle",
                            font=dict(family=SANS, size=22, color="#1a1a1a")))
    annotations.append(dict(xref="x" + k + " domain", yref="y" + k + " domain", x=0.502, y=0.072,
                            text="<i>corr.</i> = " + CORR[i], showarrow=False,
                            xanchor="left", yanchor="middle",
                            font=dict(family=SANS, size=21, color="#1a1a1a")))

# colour legend (gradient bar)
fig.add_trace(go.Heatmap(x=LEGEND_YEARS, y=[0], z=[LEGEND_YEARS], colorscale=GRAYS,
                         showscale=False, zsmooth="best", xaxis="x16", yaxis="y16", hoverinfo="skip"))
layout["xaxis16"] = dict(domain=[px_x(952), px_x(1160)], range=[1965, 2021], anchor="y16",
                         visible=False, fixedrange=True)
layout["yaxis16"] = dict(domain=[px_y(1486), px_y(1457)], range=[-0.5, 0.5], anchor="x16",
                         visible=False, fixedrange=True)
for yr_label, xp in (("1965", 954), ("2021", 1168)):
    annotations.append(dict(xref="paper", yref="paper", x=px_x(xp), y=px_y(1505), text=yr_label,
                            showarrow=False, xanchor="center", yanchor="middle", font=TITLEFONT))

annotations.append(dict(xref="paper", yref="paper", x=px_x(22), y=px_y(740), text="Persistencia",
                        textangle=-90, showarrow=False, xanchor="center", yanchor="middle",
                        font=TITLEFONT))
annotations.append(dict(xref="paper", yref="paper", x=px_x(648), y=px_y(1469),
                        text="Inflación mensual a.e. promedio", showarrow=False,
                        xanchor="center", yanchor="middle", font=TITLEFONT))

layout["shapes"] = shapes
layout["annotations"] = annotations
fig.update_layout(**layout)
fig.write_html("out.html", config={"displayModeBar": False})
